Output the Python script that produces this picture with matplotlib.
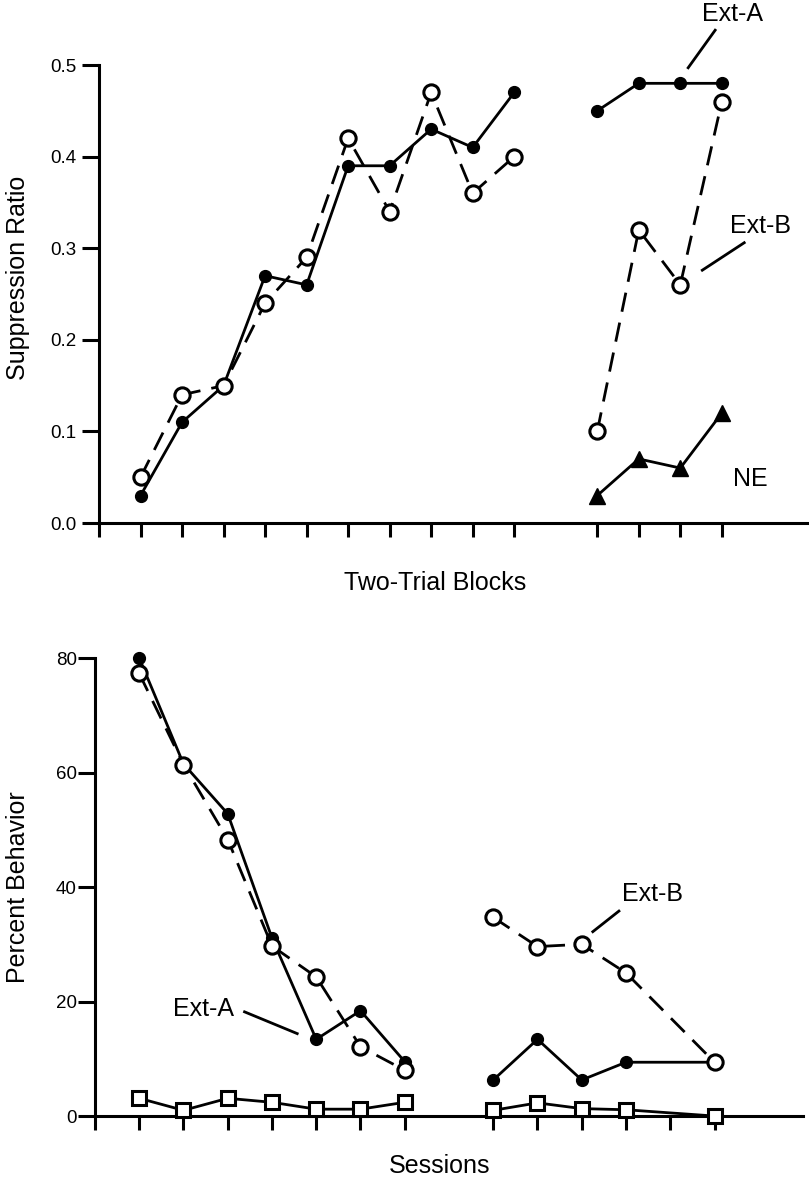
import matplotlib
matplotlib.use('Agg')
import matplotlib.pyplot as plt
import numpy as np

plt.rcParams['font.family'] = ['Liberation Sans', 'DejaVu Sans']

# top panel: suppression ratio over two-trial blocks
acq_blocks = [1, 2, 3, 4, 5, 6, 7, 8, 9, 10]
acq_ext_a = [0.03, 0.11, 0.15, 0.27, 0.26, 0.39, 0.39, 0.43, 0.41, 0.47]
acq_ext_b = [0.05, 0.14, 0.15, 0.24, 0.29, 0.42, 0.34, 0.47, 0.36, 0.40]
test_blocks = [12, 13, 14, 15]
test_ext_a = [0.45, 0.48, 0.48, 0.48]
test_ext_b = [0.10, 0.32, 0.26, 0.46]
test_ne = [0.03, 0.07, 0.06, 0.12]
top_ticks = [0, 1, 2, 3, 4, 5, 6, 7, 8, 9, 10, 12, 13, 14, 15]
top_yticks = [0.0, 0.1, 0.2, 0.3, 0.4, 0.5]

# bottom panel: percent behavior over sessions
ext_sessions = [1, 2, 3, 4, 5, 6, 7]
ext_a = [80, 61.5, 52.8, 31.1, 13.4, 18.4, 9.5]
ext_b = [77.3, 61.4, 48.3, 29.7, 24.3, 12.1, 8.0]
ext_ne = [3.1, 1.0, 3.1, 2.4, 1.2, 1.2, 2.4]
test_sessions = [9, 10, 11, 12, 14]
test_a = [6.3, 13.4, 6.3, 9.4, 9.4]
test_b = [34.7, 29.6, 30.0, 25.0, 9.4]
test_sq = [1.0, 2.3, 1.3, 1.1, 0.0]
bot_ticks = [0, 1, 2, 3, 4, 5, 6, 7, 9, 10, 11, 12, 13, 14]
bot_yticks = [0, 20, 40, 60, 80]

LW = 2.0
DASH = (0, (7, 4))
filled = dict(color='black', lw=LW, marker='o', ms=8.5, zorder=3, clip_on=False)
opened = dict(color='black', lw=LW, ls=DASH, marker='o', ms=11, mfc='white',
              mec='black', mew=2.2, zorder=4, clip_on=False)


def style_axes(ax, xticks, yticks, ylabels, ypad):
    for s in ['top', 'right']:
        ax.spines[s].set_visible(False)
    for s in ['left', 'bottom']:
        ax.spines[s].set_linewidth(2.2)
    ax.spines['left'].set_bounds(yticks[0], yticks[-1])
    ax.set_xticks(xticks)
    ax.set_xticklabels([])
    ax.set_yticks(yticks)
    ax.set_yticklabels(ylabels)
    ax.tick_params(direction='out', width=2.2, labelsize=13.5)
    ax.tick_params(axis='x', length=10)
    ax.tick_params(axis='y', length=12, pad=ypad)


fig = plt.figure(figsize=(8.09, 11.82), dpi=100)

# ---- top panel
ax1 = fig.add_axes([0.1224, 0.5575, 0.8776, 0.3875])
ax1.plot(acq_blocks, acq_ext_a, **filled)
ax1.plot(acq_blocks, acq_ext_b, **opened)
ax1.plot(test_blocks, test_ext_a, **filled)
ax1.plot(test_blocks, test_ext_b, **opened)
ax1.plot(test_blocks, test_ne, color='black', lw=LW, marker='^', ms=11, zorder=3)
ax1.set_xlim(0, 17.1)
ax1.set_ylim(0, 0.5)
style_axes(ax1, top_ticks, top_yticks, ['%.1f' % v for v in top_yticks], 4)
ax1.set_xlabel('Two-Trial Blocks', fontsize=18)
ax1.xaxis.set_label_coords(0.473, -0.105)
ax1.set_ylabel('Suppression Ratio', fontsize=18)
ax1.yaxis.set_label_coords(-0.097, 0.535)

ax1.text(15.25, 0.556, 'Ext-A', fontsize=18, ha='center', va='center')
ax1.plot([14.84, 14.19], [0.538, 0.497], color='black', lw=LW, clip_on=False)
ax1.text(15.93, 0.324, 'Ext-B', fontsize=18, ha='center', va='center')
ax1.plot([15.54, 14.53], [0.306, 0.276], color='black', lw=LW, clip_on=False)
ax1.text(15.69, 0.048, 'NE', fontsize=18, ha='center', va='center')

# ---- bottom panel
ax2 = fig.add_axes([0.1174, 0.0558, 0.8752, 0.3875])
sq = dict(color='black', lw=LW, marker='s', ms=10.5, mfc='white', mec='black',
          mew=2.2, zorder=5, clip_on=False)
ax2.plot(ext_sessions, ext_ne, **sq)
ax2.plot(test_sessions, test_sq, **sq)
ax2.plot(ext_sessions, ext_a, **filled)
ax2.plot(ext_sessions, ext_b, **opened)
ax2.plot(test_sessions, test_a, **filled)
ax2.plot(test_sessions, test_b, **opened)
ax2.set_xlim(0, 16)
ax2.set_ylim(0, 80)
style_axes(ax2, bot_ticks, bot_yticks, [str(v) for v in bot_yticks], 1)
ax2.set_xlabel('Sessions', fontsize=18)
ax2.xaxis.set_label_coords(0.487, -0.083)
ax2.set_ylabel('Percent Behavior', fontsize=18)
ax2.yaxis.set_label_coords(-0.092, 0.5)

ax2.text(2.45, 18.7, 'Ext-A', fontsize=18, ha='center', va='center')
ax2.plot([3.38, 4.57], [18.2, 14.4], color='black', lw=LW)
ax2.text(12.61, 38.7, 'Ext-B', fontsize=18, ha='center', va='center')
ax2.plot([11.84, 11.25], [35.8, 32.2], color='black', lw=LW)

fig.savefig('out.png', dpi=100)
